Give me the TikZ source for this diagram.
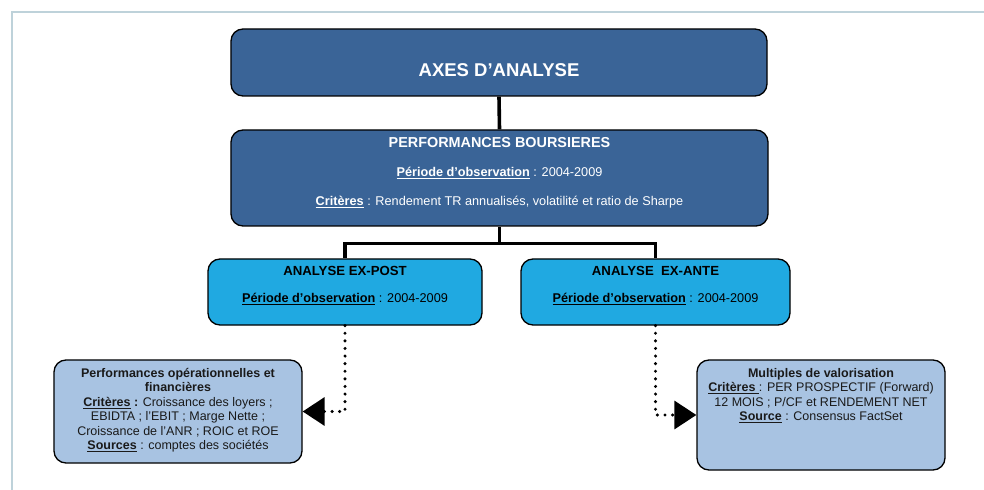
\documentclass[tikz,border=0pt]{standalone}
\usepackage{fontspec}
\setmainfont{Liberation Sans}
\usetikzlibrary{arrows.meta}
\definecolor{darkbox}{HTML}{3A6497}
\definecolor{midbox}{HTML}{20A9E1}
\definecolor{lightbox}{HTML}{A8C3E2}
\definecolor{framecol}{HTML}{BED2DA}
\definecolor{txt}{HTML}{1A1A1A}
\tikzset{
  boxbase/.style={draw=black, line width=1.3bp, rounded corners=12bp, inner sep=0pt},
  darkb/.style={boxbase, fill=darkbox},
  midb/.style={boxbase, fill=midbox},
  lightb/.style={boxbase, fill=lightbox},
  conn/.style={line width=3.6bp, black},
  dotconn/.style={line width=3.4bp, black, line cap=round, dash pattern=on 0pt off 7.6bp,
     -{Triangle[length=22bp,width=28bp,line cap=butt]}},
  smalltxt/.style={font=\fontsize{12.5bp}{14.5bp}\selectfont, text=txt, align=center, inner sep=0pt},
  hdtxt/.style={font=\bfseries\fontsize{13.2bp}{15bp}\selectfont, inner sep=0pt},
}
\begin{document}
\begin{tikzpicture}[x=1bp,y=-1bp]
\useasboundingbox (0,0) rectangle (984,490);
% frame
\draw[framecol, line width=2bp] (12,490) -- (12,12) -- (984,12);
% boxes
\node[darkb, minimum width=536bp, minimum height=67bp] (axes) at (499,62.5) {};
\node[darkb, minimum width=537bp, minimum height=96bp] (perf) at (499.5,178) {};
\node[midb, minimum width=274bp, minimum height=66bp] (expost) at (345,292) {};
\node[midb, minimum width=269bp, minimum height=66bp] (exante) at (655.5,292) {};
\node[lightb, minimum width=248bp, minimum height=103bp] (opfin) at (178,411.5) {};
\node[lightb, minimum width=248bp, minimum height=110bp] (mult) at (821,415) {};
% connectors
\draw[conn] (axes.south) -- (perf.north);
\draw[conn] (perf.south) -- ++(0,17) coordinate (br) -| (expost.north);
\draw[conn] (br) -| (exante.north);
\draw[dotconn] (expost.south) |- (opfin.east);
\draw[dotconn] (exante.south) |- (mult.west);
% texts
\node[font=\bfseries\fontsize{18.5bp}{20bp}\selectfont, text=white, inner sep=0pt] (axest) at (499,70) {AXES D’ANALYSE};
\node[font=\bfseries\fontsize{14.4bp}{16bp}\selectfont, text=white, inner sep=0pt] (perft) at (499.5,143) {PERFORMANCES BOURSIERES};
\node[font=\fontsize{12.7bp}{14bp}\selectfont, text=white, inner sep=0pt] (perfp) at (499.5,173) {\textbf{\underline{Période d’observation}} : 2004-2009};
\node[font=\fontsize{12.7bp}{14bp}\selectfont, text=white, inner sep=0pt] (perfc) at (499.5,202) {\textbf{\underline{Critères}} : Rendement TR annualisés, volatilité et ratio de Sharpe};
\node[hdtxt] (expostt) at (345,271) {ANALYSE EX-POST};
\node[font=\fontsize{12.7bp}{14bp}\selectfont, inner sep=0pt] (expostp) at (345,299) {\textbf{\underline{Période d’observation}} : 2004-2009};
\node[hdtxt] (exantet) at (655.5,271) {ANALYSE\ \ EX-ANTE};
\node[font=\fontsize{12.7bp}{14bp}\selectfont, inner sep=0pt] (exantep) at (655.5,299) {\textbf{\underline{Période d’observation}} : 2004-2009};
\node[smalltxt, anchor=north] (opfint) at (178,368) {\textbf{Performances opérationnelles et}\\ \textbf{financières}\\ \textbf{\underline{Critères} :} Croissance des loyers ;\\ EBIDTA ; l’EBIT ; Marge Nette ;\\ Croissance de l’ANR ; ROIC et ROE\\ \textbf{\underline{Sources}} : comptes des sociétés};
\node[smalltxt, anchor=north] (multt) at (821,368) {\textbf{Multiples de valorisation}\\ \textbf{\underline{Critères }}: PER PROSPECTIF (Forward)\\ 12 MOIS ; P/CF et RENDEMENT NET\\ \textbf{\underline{Source}} : Consensus FactSet};
\end{tikzpicture}
\end{document}
